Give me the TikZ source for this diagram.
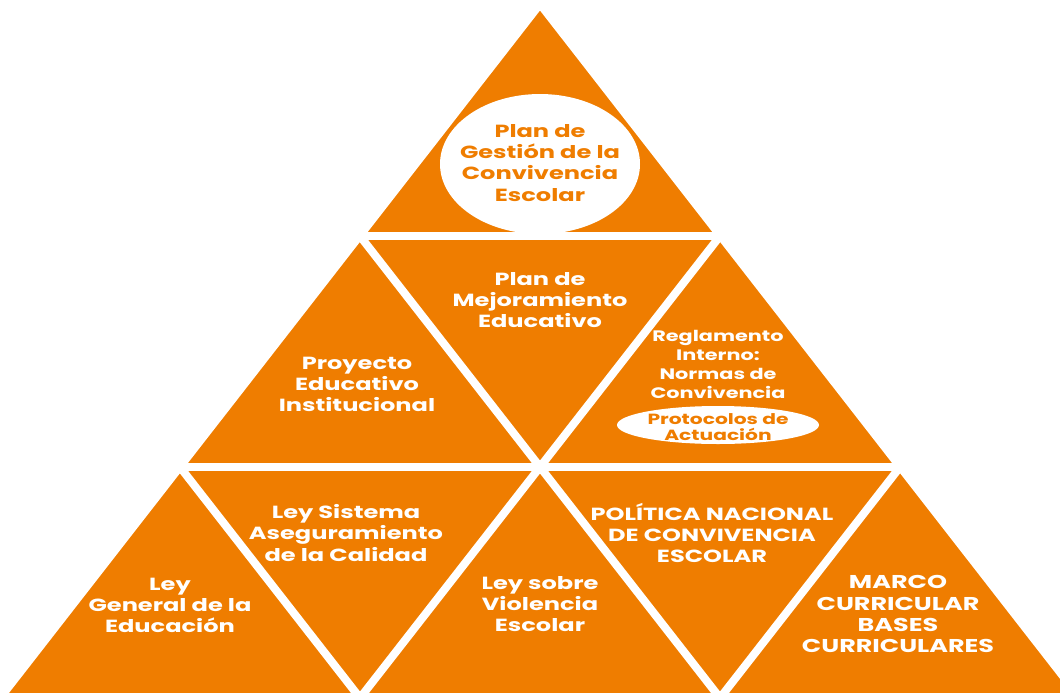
\documentclass[tikz,border=0pt]{standalone}
\usepackage{fontspec}
\setmainfont{Poppins}[FakeStretch=1.37]
\usepackage{tikz}
\definecolor{pyrorange}{RGB}{239,125,0}

\begin{document}
\begin{tikzpicture}[x=0.025cm,y=-0.025cm,
    gapline/.style={draw=white,line width=0.2cm},
    piecetext/.style={text=white,align=center,font=\bfseries\fontsize{12.5}{15}\selectfont},
    smalltext/.style={text=white,align=center,font=\bfseries\fontsize{10.8}{13.5}\selectfont},
    ovaltext/.style={text=pyrorange,align=center,font=\bfseries\fontsize{12.5}{15}\selectfont}]
    \useasboundingbox (0,0) rectangle (1060,692);
    \clip (0,0) rectangle (1060,692);

    % Whole pyramid
    \filldraw[fill=pyrorange,gapline] (540,4) -- (0,698) -- (1080,698) -- cycle;

    % White gaps between the pieces
    \draw[gapline] (360,236) -- (720,236);
    \draw[gapline] (180,467) -- (900,467);
    \draw[gapline] (360,236) -- (720,698);
    \draw[gapline] (180,467) -- (360,698);
    \draw[gapline] (720,236) -- (360,698);
    \draw[gapline] (900,467) -- (720,698);

    % Top piece
    \fill[white] (540,164) ellipse [x radius=100, y radius=70];
    \node[ovaltext] (gestion) at (540,163) {Plan de\\Gestión de la\\Convivencia\\Escolar};

    % Middle row
    \node[piecetext] (pei) at (357,384) {Proyecto\\Educativo\\Institucional};
    \node[piecetext] (pme) at (540,300) {Plan de\\Mejoramiento\\Educativo};
    \node[smalltext] (reglamento) at (718,364) {Reglamento\\Interno:\\Normas de\\Convivencia};
    \fill[white] (718,425) ellipse [x radius=101, y radius=19];
    \node[ovaltext,font=\bfseries\fontsize{10.5}{11.5}\selectfont] (protocolos) at (718,427) {Protocolos de\\Actuación};

    % Bottom row
    \node[piecetext] (lge) at (170,605) {Ley\\General de la\\Educación};
    \node[piecetext] (sac) at (346,533) {Ley Sistema\\Aseguramiento\\de la Calidad};
    \node[piecetext] (violencia) at (540,604) {Ley sobre\\Violencia\\Escolar};
    \node[piecetext] (politica) at (712,533) {POLÍTICA NACIONAL\\DE CONVIVENCIA\\ESCOLAR};
    \node[piecetext,font=\bfseries\fontsize{13.2}{15}\selectfont] (marco) at (898,614) {MARCO\\CURRICULAR\\BASES\\CURRICULARES};
\end{tikzpicture}
\end{document}
